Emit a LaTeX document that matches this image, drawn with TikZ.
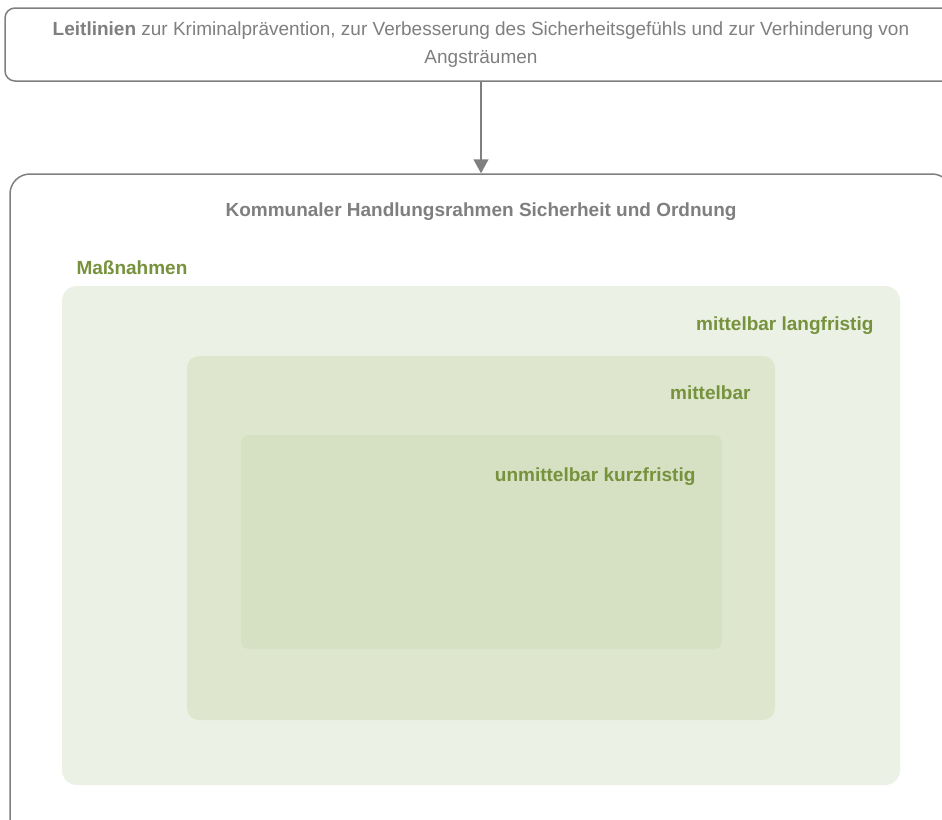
\documentclass[tikz,border=0pt]{standalone}
\usepackage{fontspec}
\setmainfont{Liberation Sans}
\usetikzlibrary{arrows.meta}

\definecolor{rahmengrau}{HTML}{7F7F7F}
\definecolor{massgruen}{HTML}{76923C}
\definecolor{langfarbe}{HTML}{EBF1E5}
\definecolor{mittelfarbe}{HTML}{DEE7CE}
\definecolor{kurzfarbe}{HTML}{D6E0C3}

\begin{document}
\begin{tikzpicture}[x=1pt,y=-1pt,
    rahmenbox/.style={draw=rahmengrau, line width=1.5pt, fill=white, inner sep=0pt},
    stufenlabel/.style={anchor=east, text=massgruen, font=\fontsize{19}{22}\selectfont\bfseries},
    pfeil/.style={-{Triangle[length=14pt,width=15pt]}, draw=rahmengrau, line width=1.5pt}]

  % Page frame
  \useasboundingbox (0,0) rectangle (942,819);
  \clip (0,0) rectangle (942,819);

  % Leitlinien box
  \node[rahmenbox, rounded corners=10pt, minimum width=952pt, minimum height=73pt,
        align=center, text=rahmengrau, font=\fontsize{19}{28}\selectfont] (leit) at (481,44.5)
    {\textbf{Leitlinien} zur Kriminalprävention, zur Verbesserung des Sicherheitsgefühls und zur Verhinderung von\\Angsträumen};

  % Handlungsrahmen box
  \node[rahmenbox, rounded corners=20pt, minimum width=942pt, minimum height=680pt] (rahmen) at (481,514) {};
  \node[text=rahmengrau, font=\fontsize{19}{22}\selectfont\bfseries] (titel) at (481,212)
    {Kommunaler Handlungsrahmen Sicherheit und Ordnung};

  % Arrow
  \draw[pfeil] (leit.south) -- (leit.south |- rahmen.north);

  % Massnahmen
  \node[stufenlabel, anchor=west] (mass) at (73,268) {Maßnahmen};

  % Nested boxes
  \fill[langfarbe, rounded corners=15pt] (62,286) rectangle (900,785);
  \fill[mittelfarbe, rounded corners=12pt] (187,356) rectangle (775,720);
  \fill[kurzfarbe, rounded corners=8pt] (241,435) rectangle (722,649);

  \node[stufenlabel] (lang) at (877,326) {mittelbar langfristig};
  \node[stufenlabel] (mittel) at (754,393) {mittelbar};
  \node[stufenlabel] (kurz) at (699,477) {unmittelbar kurzfristig};

\end{tikzpicture}
\end{document}
